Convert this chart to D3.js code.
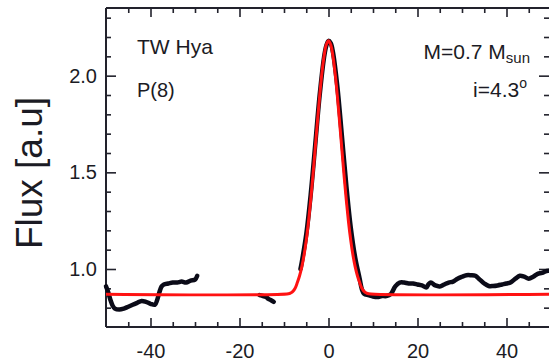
<!DOCTYPE html>
<html><head><meta charset="utf-8">
<script src="https://cdn.jsdelivr.net/npm/d3@7"></script>
<style>body{margin:0;background:#fff}svg{display:block}text{font-family:"Liberation Sans",Arial,Helvetica,sans-serif;fill:#1b1b24}</style>
</head><body>
<script>
// ---- data ----
const xMajorTicks = [-40, -20, 0, 20, 40];
const xMinorTicks = [-45, -35, -30, -25, -15, -10, -5, 5, 10, 15, 25, 30, 35, 45];
const yMajorTicks = [1.0, 1.5, 2.0];
const yMinorTicks = [0.8, 0.9, 1.1, 1.2, 1.3, 1.4, 1.6, 1.7, 1.8, 1.9, 2.1, 2.2, 2.3];

// observed flux (black), three segments
const obsLeftX = [-50, -49.5, -49, -48.5, -48, -47, -46, -45, -44, -43, -42, -41, -40, -39, -38.5, -38, -37.5, -37, -36, -35, -34, -33, -32, -31, -30, -29.5];
const obsLeftY = [0.91, 0.88, 0.84, 0.81, 0.795, 0.79, 0.795, 0.805, 0.815, 0.825, 0.835, 0.83, 0.82, 0.815, 0.84, 0.88, 0.91, 0.92, 0.925, 0.93, 0.93, 0.935, 0.93, 0.94, 0.945, 0.965];
const obsMidX = [-15.5, -15, -14, -13.5, -13, -12.3];
const obsMidY = [0.865, 0.862, 0.855, 0.845, 0.84, 0.83];
const obsMainX = [-6.3, -6, -5, -4, -3, -2, -1, -0.5, 0, 0.5, 1, 2, 3, 4, 5, 6, 7, 7.5, 8, 9, 10, 11, 12, 13, 14, 15, 16, 17, 18, 19, 20, 21, 22, 22.5, 23, 24, 25, 26, 27, 28, 29, 30, 31, 32, 33, 34, 35, 36, 37, 38, 39, 40, 41, 42, 43, 44, 45, 46, 47, 48, 49, 50];
const obsMainY = [1.0, 1.036, 1.179, 1.385, 1.638, 1.896, 2.095, 2.154, 2.18, 2.168, 2.122, 1.942, 1.691, 1.433, 1.215, 1.059, 0.95, 0.895, 0.872, 0.865, 0.858, 0.855, 0.86, 0.86, 0.87, 0.91, 0.93, 0.93, 0.925, 0.925, 0.92, 0.915, 0.905, 0.922, 0.93, 0.915, 0.91, 0.92, 0.93, 0.935, 0.95, 0.96, 0.968, 0.968, 0.965, 0.945, 0.925, 0.912, 0.912, 0.915, 0.92, 0.925, 0.932, 0.95, 0.965, 0.96, 0.95, 0.96, 0.975, 0.98, 0.99, 0.99];

// model fit (red)
const modelX = [-50, -9, -8.5, -8, -7.5, -7, -6.5, -6, -5.5, -5, -4.5, -4, -3.5, -3, -2.5, -2, -1.5, -1, -0.5, 0, 0.5, 1, 1.5, 2, 2.5, 3, 3.5, 4, 4.5, 5, 5.5, 6, 6.5, 7, 7.5, 8, 8.5, 9, 50];
const modelY = [0.87, 0.872, 0.876, 0.884, 0.9, 0.93, 0.965, 1.011, 1.071, 1.148, 1.243, 1.356, 1.483, 1.62, 1.759, 1.892, 2.009, 2.101, 2.16, 2.18, 2.16, 2.101, 2.009, 1.892, 1.759, 1.62, 1.483, 1.356, 1.243, 1.148, 1.071, 1.011, 0.965, 0.93, 0.9, 0.884, 0.876, 0.872, 0.87];

// ---- chart ----
const W = 549, H = 362;
const svg = d3.select("body").append("svg").attr("width", W).attr("height", H);
const x = d3.scaleLinear().domain([-50, 50]).range([106, 551]);
const y = d3.scaleLinear().domain([0.7, 2.35]).range([327, 8]);
const axisColor = "#22222c";

function drawAxis(gen, tf, vals, size, labels) {
  const g = svg.append("g").attr("transform", tf)
    .call(gen.tickValues(vals).tickSize(size).tickSizeOuter(0).tickFormat(labels ? labels : () => "").tickPadding(8));
  g.select(".domain").remove();
  g.selectAll("line").attr("stroke", axisColor).attr("stroke-width", 1.6);
  g.selectAll("text").attr("fill", "#1b1b24").style("font-size", "20px").style("font-family", '"Liberation Sans",Arial,sans-serif');
  return g;
}
// bottom
const gb = drawAxis(d3.axisBottom(x), `translate(0,327)`, xMajorTicks, -9, d => String(d));
gb.selectAll("text").attr("dy", null).attr("y", 31);
drawAxis(d3.axisBottom(x), `translate(0,327)`, xMinorTicks, -5, null);
// top
drawAxis(d3.axisTop(x), `translate(0,8)`, xMajorTicks, -9, null);
drawAxis(d3.axisTop(x), `translate(0,8)`, xMinorTicks, -5, null);
// left
const gl = drawAxis(d3.axisLeft(y), `translate(106,0)`, yMajorTicks, -10, d => d3.format(".1f")(d));
gl.selectAll("text").attr("x", -9);
drawAxis(d3.axisLeft(y), `translate(106,0)`, yMinorTicks, -5, null);
// right
drawAxis(d3.axisRight(y), `translate(549,0)`, yMajorTicks, -10, null);
drawAxis(d3.axisRight(y), `translate(549,0)`, yMinorTicks, -5, null);

// frame
svg.append("line").attr("x1", 106).attr("x2", 106).attr("y1", 8).attr("y2", 327).attr("stroke", axisColor).attr("stroke-width", 2);
svg.append("line").attr("x1", 106).attr("x2", 551).attr("y1", 327).attr("y2", 327).attr("stroke", axisColor).attr("stroke-width", 2);
svg.append("line").attr("x1", 106).attr("x2", 551).attr("y1", 8).attr("y2", 8).attr("stroke", axisColor).attr("stroke-width", 2);

const line = d3.line().x(d => x(d[0])).y(d => y(d[1])).curve(d3.curveCatmullRom);
const zip = (a, b) => a.map((v, i) => [v, b[i]]);
[[obsLeftX, obsLeftY], [obsMidX, obsMidY], [obsMainX, obsMainY]].forEach(([a, b]) => {
  svg.append("path").attr("d", line(zip(a, b))).attr("fill", "none")
    .attr("stroke", "#0b0b18").attr("stroke-width", 4.5).attr("stroke-linejoin", "round").attr("stroke-linecap", "round");
});
svg.append("path").attr("d", line(zip(modelX, modelY))).attr("fill", "none")
  .attr("stroke", "#ff1212").attr("stroke-width", 3);

// labels
svg.append("text").attr("transform", "translate(42,173) rotate(-90)").attr("text-anchor", "middle")
  .style("font-size", "37px").text("Flux [a.u]");
svg.append("text").attr("x", 137).attr("y", 53.5).style("font-size", "21px").text("TW Hya");
svg.append("text").attr("x", 137).attr("y", 97).style("font-size", "20px").text("P(8)");
const t1 = svg.append("text").attr("x", 530).attr("y", 58.5).attr("text-anchor", "end").style("font-size", "21px");
t1.append("tspan").text("M=0.7 M");
t1.append("tspan").attr("dy", 4).style("font-size", "15px").text("sun");
const t2 = svg.append("text").attr("x", 527).attr("y", 96.5).attr("text-anchor", "end").style("font-size", "21px");
t2.append("tspan").text("i=4.3");
t2.append("tspan").attr("dy", -9).style("font-size", "14px").text("o");
</script>
</body></html>
